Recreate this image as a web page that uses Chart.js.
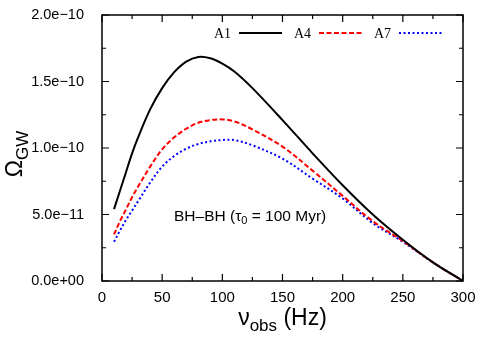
<!DOCTYPE html>
<html lang="en">
<head>
  <meta charset="UTF-8">
  <title>Omega_GW vs nu_obs</title>
  <script src="https://cdn.jsdelivr.net/npm/chart.js"></script>
  <style>
    body { margin: 0; background: #fff; }
    #chart { display: block; }
  </style>
</head>
<body>
  <canvas id="chart" width="491" height="343"></canvas>
  <script>
    // data (Omega in units of 1e-10)
    const unit = 1e-10;
    const seriesNames = ['A1', 'A4', 'A7'];
    const freqs = [10, 15, 20, 25, 30, 40, 50, 60, 70, 80, 90, 100, 110, 125, 150, 175, 200, 225, 250, 275, 300];
    const omegaA1 = [0.54, 0.68, 0.82, 0.96, 1.08, 1.29, 1.45, 1.57, 1.65, 1.685, 1.675, 1.635, 1.575, 1.45, 1.21, 0.96, 0.72, 0.50, 0.31, 0.14, 0];
    const omegaA4 = [0.35, 0.45, 0.54, 0.63, 0.71, 0.86, 0.99, 1.08, 1.145, 1.19, 1.21, 1.215, 1.20, 1.14, 1.01, 0.83, 0.64, 0.45, 0.30, 0.14, 0];
    const omegaA7 = [0.295, 0.38, 0.46, 0.53, 0.60, 0.74, 0.86, 0.94, 0.995, 1.03, 1.05, 1.06, 1.06, 1.02, 0.92, 0.77, 0.62, 0.435, 0.295, 0.14, 0];
    const xTicks = [0, 50, 100, 150, 200, 250, 300];
    const yTicks = [0, 0.5e-10, 1.0e-10, 1.5e-10, 2.0e-10];
    const noteText = ['BH\u2013BH (\u03c4', '0', ' = 100 Myr)'];

    const sans = '"Liberation Sans", Arial, sans-serif';
    const serif = '"Liberation Serif", "Times New Roman", serif';

    function toPoints(ys) {
      return freqs.map((f, i) => ({ x: f, y: ys[i] * unit }));
    }

    function fmtExp(v) {
      const parts = v.toExponential(1).split('e');
      const n = parseInt(parts[1], 10);
      const e = String(Math.abs(n)).padStart(2, '0');
      return parts[0] + 'e' + (n < 0 ? '\u2212' : '+') + e;
    }

    // text with a subscript, drawn from a left x
    function drawSub(ctx, main, sub, tail, x, y, bigFont, smallFont, drop) {
      ctx.textAlign = 'left';
      ctx.font = bigFont;
      ctx.fillText(main, x, y);
      x += ctx.measureText(main).width;
      ctx.font = smallFont;
      ctx.fillText(sub, x, y + drop);
      x += ctx.measureText(sub).width;
      if (tail) {
        ctx.font = bigFont;
        ctx.fillText(tail, x, y);
        x += ctx.measureText(tail).width;
      }
      return x;
    }
    function subWidth(ctx, main, sub, tail, bigFont, smallFont) {
      ctx.font = bigFont;
      let w = ctx.measureText(main).width + (tail ? ctx.measureText(tail).width : 0);
      ctx.font = smallFont;
      return w + ctx.measureText(sub).width;
    }

    // frame with inward ticks on all four sides, like gnuplot
    const framePlugin = {
      id: 'frame',
      afterDraw(chart) {
        const { ctx, chartArea: a, scales } = chart;
        ctx.save();
        ctx.strokeStyle = '#000';
        ctx.lineWidth = 1.5;
        ctx.strokeRect(a.left, a.top, a.right - a.left, a.bottom - a.top);
        ctx.lineWidth = 1.2;
        ctx.beginPath();
        for (let k = 0; k <= 12; k++) {
          const px = scales.x.getPixelForValue(k * 25);
          const len = k % 2 === 0 ? 7 : 4;
          ctx.moveTo(px, a.bottom); ctx.lineTo(px, a.bottom - len);
          ctx.moveTo(px, a.top); ctx.lineTo(px, a.top + len);
        }
        for (let k = 0; k <= 8; k++) {
          const py = scales.y.getPixelForValue(k * 0.25e-10);
          const len = k % 2 === 0 ? 7 : 4;
          ctx.moveTo(a.left, py); ctx.lineTo(a.left + len, py);
          ctx.moveTo(a.right, py); ctx.lineTo(a.right - len, py);
        }
        ctx.stroke();
        ctx.restore();
      }
    };

    // legend: label first, then line sample, laid out right to left
    const keyPlugin = {
      id: 'key',
      afterDraw(chart) {
        const { ctx } = chart;
        const y = 33;
        ctx.save();
        ctx.font = '14px ' + serif;
        ctx.textBaseline = 'middle';
        ctx.textAlign = 'right';
        ctx.fillStyle = '#000';
        const n = chart.data.datasets.length;
        chart.data.datasets.forEach((ds, i) => {
          const end = 442 - (n - 1 - i) * 80;
          const start = end - 43;
          ctx.fillText(ds.label, start - 8, y + 1);
          ctx.strokeStyle = ds.borderColor;
          ctx.lineWidth = ds.borderWidth;
          ctx.setLineDash(ds.borderDash || []);
          ctx.beginPath();
          ctx.moveTo(start, y);
          ctx.lineTo(end, y);
          ctx.stroke();
        });
        ctx.restore();
      }
    };

    // axis titles and the in-plot note
    const textPlugin = {
      id: 'texts',
      afterDraw(chart) {
        const { ctx, chartArea: a } = chart;
        ctx.save();
        ctx.fillStyle = '#000';
        ctx.textBaseline = 'alphabetic';

        // x title: nu_obs (Hz)
        const big = '23px ' + sans, small = '17px ' + sans;
        const cx = (a.left + a.right) / 2;
        const wx = subWidth(ctx, '\u03bd', 'obs', ' (Hz)', big, small);
        drawSub(ctx, '\u03bd', 'obs', ' (Hz)', cx - wx / 2, 325, big, small, 6);

        // y title: Omega_GW, rotated
        const cy = (a.top + a.bottom) / 2;
        const wy = subWidth(ctx, '\u03a9', 'GW', '', big, small);
        ctx.save();
        ctx.translate(22, cy + 6);
        ctx.rotate(-Math.PI / 2);
        drawSub(ctx, '\u03a9', 'GW', '', -wy / 2, 0, big, small, 6);
        ctx.restore();

        // note
        drawSub(ctx, noteText[0], noteText[1], noteText[2], 174, 221,
          '15.5px ' + sans, '11px ' + sans, 3);
        ctx.restore();
      }
    };

    const ctx = document.getElementById('chart').getContext('2d');
    window.omegaChart = new Chart(ctx, {
      type: 'line',
      data: {
        datasets: [
          { label: seriesNames[0], data: toPoints(omegaA1), borderColor: '#000000', borderWidth: 2, borderDash: [] },
          { label: seriesNames[1], data: toPoints(omegaA4), borderColor: '#ff0000', borderWidth: 2, borderDash: [5, 2.5] },
          { label: seriesNames[2], data: toPoints(omegaA7), borderColor: '#0000ff', borderWidth: 2, borderDash: [2, 2.5] }
        ]
      },
      options: {
        responsive: false,
        animation: false,
        layout: { padding: { left: 0, right: 28, top: 15, bottom: 0 } },
        elements: {
          point: { radius: 0 },
          line: { tension: 0.35, fill: false }
        },
        plugins: {
          legend: { display: false },
          tooltip: { enabled: false }
        },
        scales: {
          x: {
            type: 'linear',
            min: 0, max: 300,
            grid: { display: false },
            border: { display: false },
            afterFit(scale) {
              scale.height = 62;
              scale.paddingLeft = 0;
              scale.paddingRight = 0;
            },
            afterBuildTicks(scale) { scale.ticks = xTicks.map(v => ({ value: v })); },
            ticks: {
              color: '#000',
              font: { family: sans, size: 15 },
              padding: 0,
              maxRotation: 0
            }
          },
          y: {
            type: 'linear',
            min: 0, max: 2e-10,
            grid: { display: false },
            border: { display: false },
            afterFit(scale) {
              scale.width = 102;
              scale.paddingTop = 0;
              scale.paddingBottom = 0;
            },
            afterBuildTicks(scale) { scale.ticks = yTicks.map(v => ({ value: v })); },
            ticks: {
              color: '#000',
              font: { family: sans, size: 14.5 },
              padding: 10,
              callback: v => fmtExp(v)
            }
          }
        }
      },
      plugins: [framePlugin, keyPlugin, textPlugin]
    });
  </script>
</body>
</html>
